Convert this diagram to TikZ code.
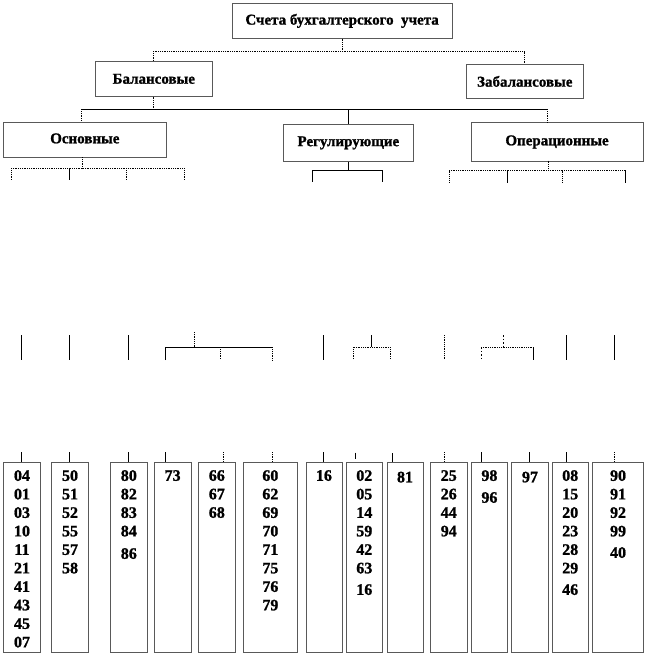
\documentclass[tikz,border=0pt]{standalone}
\usepackage{fontspec}
\setmainfont{Liberation Serif}[BoldFeatures={FakeBold=1.2}]
\begin{document}
\begin{tikzpicture}[x=1pt,y=-1pt,
  box/.style={draw=black!65, line width=0.7pt, inner sep=0pt, anchor=north west},
  lbl/.style={font=\bfseries\fontsize{15}{18}\selectfont},
  num/.style={font=\bfseries\fontsize{16}{18.5}\selectfont, align=center, anchor=north, inner sep=0pt},
  con/.style={line width=0.8pt},
  dcon/.style={line width=0.8pt, densely dotted},
  lcon/.style={line width=0.8pt, dash pattern=on 1.5pt off 2pt}]
\useasboundingbox (0,0) rectangle (645,655);

% ---------- upper boxes ----------
\node[box, lbl, minimum width=220.5pt, minimum height=35pt] (top) at (231.5,3) {Счета бухгалтерского\ \ учета};
\node[box, lbl, minimum width=116.3pt, minimum height=35pt] (bal) at (95.3,61) {Балансовые};
\node[box, lbl, minimum width=116.3pt, minimum height=34pt] (zab) at (466.3,64) {Забалансовые};
\node[box, lbl, minimum width=162.4pt, minimum height=35.6pt, text depth=3pt] (osn) at (3.3,121.7) {Основные};
\node[box, lbl, minimum width=130.6pt, minimum height=37pt] (reg) at (282.7,124) {Регулирующие};
\node[box, lbl, minimum width=172pt, minimum height=38.4pt, text depth=3pt] (op) at (470.7,122.3) {Операционные};

% level y-coordinates
\coordinate (y51) at (0,51);
\coordinate (y109) at (0,109.3);

% top -> Балансовые / Забалансовые
\draw[dcon] (top.south) -- (top.south |- y51);
\draw[dcon] (bal.north) |- (zab.north |- y51) -- (zab.north);

% Балансовые -> three groups
\coordinate (osnin) at (81.7,121.7);
\coordinate (opin) at (547.7,122.3);
\draw[dcon] (bal.south) -- (bal.south |- y109);
\draw[con] (osnin |- y109) -- (opin |- y109);
\draw[dcon] (osnin |- y109) -- (osnin);
\draw[con] (reg.north |- y109) -- (reg.north);
\draw[dcon] (opin |- y109) -- (opin);

% Основные sub-bracket
\coordinate (osnout) at (82.3,157.3);
\coordinate (yo) at (0,168.3);
\coordinate (o1) at (11,180);
\coordinate (o2) at (69,180);
\coordinate (o3) at (126.7,180);
\coordinate (o4) at (184.3,180);
\draw[dcon] (osnout) -- (osnout |- yo);
\draw[dcon] (o1 |- yo) -- (o4 |- yo);
\draw[dcon] (o1 |- yo) -- (o1);
\draw[con] (o2 |- yo) -- (o2);
\draw[dcon] (o3 |- yo) -- (o3);
\draw[dcon] (o4 |- yo) -- (o4);

% Регулирующие sub-bracket
\coordinate (yr) at (0,170.7);
\coordinate (r1) at (312.7,181.7);
\coordinate (r2) at (382.3,181.7);
\draw[con] (reg.south) -- (reg.south |- yr);
\draw[con] (r1) |- (r2 |- yr) -- (r2);

% Операционные sub-bracket
\coordinate (opout) at (548.3,160.7);
\coordinate (yp) at (0,170.7);
\coordinate (p1) at (449,182.7);
\coordinate (p2) at (507.3,182.7);
\coordinate (p3) at (562.7,182.7);
\coordinate (p4) at (625.7,182.7);
\draw[dcon] (opout) -- (opout |- yp);
\draw[dcon] (p1 |- yp) -- (p4 |- yp);
\draw[dcon] (p1 |- yp) -- (p1);
\draw[con] (p2 |- yp) -- (p2);
\draw[dcon] (p3 |- yp) -- (p3);
\draw[con] (p4 |- yp) -- (p4);

% ---------- middle row of stubs ----------
\coordinate (mh) at (0,347.3);
\coordinate (mb) at (0,360);
\coordinate (m1) at (21.4,335);
\coordinate (m2) at (69,335);
\coordinate (m3) at (128.6,335);
\coordinate (m4) at (323.3,335);
\coordinate (m5) at (444.5,335);
\coordinate (m6) at (566,335);
\coordinate (m7) at (614,335);
\draw[con] (m1) -- (m1 |- mb);
\draw[con] (m2) -- (m2 |- mb);
\draw[con] (m3) -- (m3 |- mb);
\draw[con] (m4) -- (m4 |- mb);
\draw[dcon] (m5) -- (m5 |- mb);
\draw[con] (m6) -- (m6 |- mb);
\draw[con] (m7) -- (m7 |- mb);
% bracket A
\coordinate (aS) at (194.3,332);
\coordinate (a1) at (165.2,360);
\coordinate (a2) at (220.6,359);
\coordinate (a3) at (272,360);
\draw[dcon] (aS) -- (aS |- mh);
\draw[con, line width=1pt] (a1) |- (a3 |- mh);
\draw[dcon] (a2 |- mh) -- (a2);
\draw[dcon] (a3 |- mh) -- (a3);
% bracket B
\coordinate (bS) at (371.5,335);
\coordinate (bb1) at (353,359);
\coordinate (bb2) at (390,359);
\draw[con] (bS) -- (bS |- mh);
\draw[dcon] (bb1) |- (bb2 |- mh) -- (bb2);
% bracket C
\coordinate (cS) at (503.5,335);
\coordinate (c1) at (481,360);
\coordinate (c2) at (533.3,360);
\draw[lcon] (cS) -- (cS |- mh);
\draw[dcon] (c1 |- mh) -- (c2 |- mh);
\draw[lcon] (c1 |- mh) -- (c1);
\draw[con] (c2 |- mh) -- (c2);

% ---------- bottom boxes ----------
\foreach \nm/\xl/\xr in {b1/3.3/40, b2/51.4/88, b3/110/147, b4/153.5/191, b5/198/235,
  b6/243/297, b7/305.5/341.7, b8/345.7/382.2, b9/386.5/422.8, b10/430/466.8,
  b11/470.8/507.3, b12/511.2/548, b13/551.5/588.2, b14/592.4/643}
  \node[box, minimum width=\xr pt-\xl pt, minimum height=190pt] (\nm) at (\xl,462) {};

\node[num] (n1) at ([yshift=-8pt]b1.north) {04\\01\\03\\10\\11\\21\\41\\43\\45\\07};
\node[num] (n2) at ([yshift=-8pt]b2.north) {50\\51\\52\\55\\57\\58};
\node[num] (n3) at ([yshift=-8pt]b3.north) {80\\82\\83\\84\\[4pt]86};
\node[num] (n4) at ([yshift=-8pt]b4.north) {73};
\node[num] (n5) at ([yshift=-8pt]b5.north) {66\\67\\68};
\node[num] (n6) at ([yshift=-8pt]b6.north) {60\\62\\69\\70\\71\\75\\76\\79};
\node[num] (n7) at ([yshift=-8pt]b7.north) {16};
\node[num] (n8) at ([yshift=-8pt]b8.north) {02\\05\\14\\59\\42\\63\\[3pt]16};
\node[num] (n9) at ([yshift=-9.5pt]b9.north) {81};
\node[num] (n10) at ([yshift=-8pt]b10.north) {25\\26\\44\\94};
\node[num] (n11) at ([yshift=-8pt]b11.north) {98\\[3.4pt]96};
\node[num] (n12) at ([yshift=-9.5pt]b12.north) {97};
\node[num] (n13) at ([yshift=-8pt]b13.north) {08\\15\\20\\23\\28\\29\\[3pt]46};
\node[num] (n14) at ([yshift=-8pt]b14.north) {90\\91\\92\\99\\[3pt]40};

% ticks above bottom boxes
\coordinate (t1) at (21.4,452);
\coordinate (t2) at (69,452);
\coordinate (t3) at (128.6,452);
\coordinate (t4) at (165.2,452);
\coordinate (t5) at (223.5,452);
\coordinate (t6) at (272,452);
\coordinate (t7) at (323.3,452);
\coordinate (t8) at (355.5,452.7);
\coordinate (t9) at (392.6,453);
\coordinate (t10) at (444.5,452);
\coordinate (t11) at (481.5,452);
\coordinate (t12) at (529.6,452);
\coordinate (t13) at (566,452);
\coordinate (t14) at (614,452);
\draw[con] (t1) -- (t1 |- b1.north);
\draw[con] (t2) -- (t2 |- b2.north);
\draw[con] (t3) -- (t3 |- b3.north);
\draw[con] (t4) -- (t4 |- b4.north);
\draw[dcon] (t5) -- (t5 |- b5.north);
\draw[dcon] (t6) -- (t6 |- b6.north);
\draw[con] (t7) -- (t7 |- b7.north);
\draw[con] (t8) -- ++(0,6.5);
\draw[con] (t9) -- (t9 |- b9.north);
\draw[dcon] (t10) -- (t10 |- b10.north);
\draw[con] (t11) -- (t11 |- b11.north);
\draw[con] (t12) -- (t12 |- b12.north);
\draw[con] (t13) -- (t13 |- b13.north);
\draw[dcon] (t14) -- (t14 |- b14.north);
\end{tikzpicture}
\end{document}
